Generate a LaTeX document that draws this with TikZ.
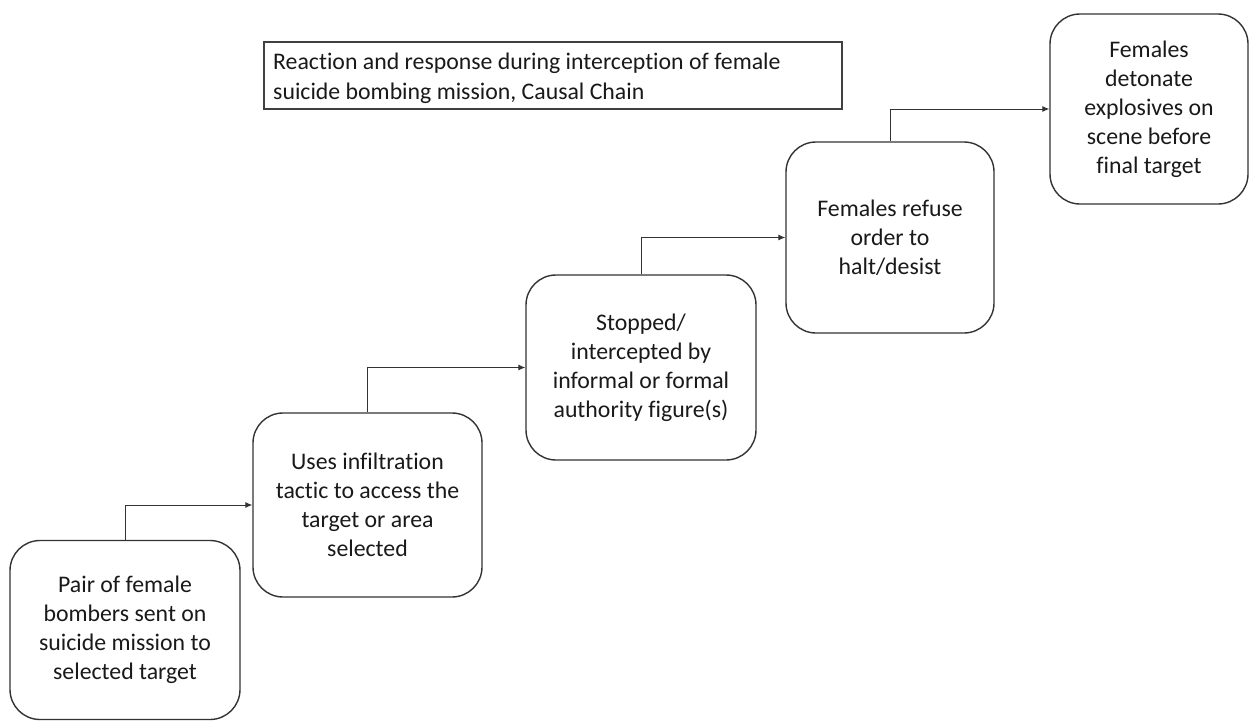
\documentclass[tikz,border=0pt]{standalone}
\usepackage{fontspec}
\setmainfont{Carlito}[Ligatures=NoCommon]
\usetikzlibrary{arrows.meta}
\begin{document}
\begin{tikzpicture}[x=1pt,y=-1pt,
  every node/.style={font=\fontsize{23.8}{29}\selectfont, text=black!90},
  stepbox/.style={draw=black!80, line width=1.4pt, rounded corners=30pt, align=center, inner sep=0pt},
  conn/.style={draw=black!80, line width=0.9pt, -{Latex[length=7pt,width=6pt]}},
  titlebox/.style={draw=black!75, line width=1.4pt, inner sep=0pt}
]
\useasboundingbox (0,0) rectangle (1249,720);
\node[stepbox, minimum width=230pt, minimum height=179pt] (b1) at (125,630)
  {Pair of female\\bombers sent on\\suicide mission to\\selected target};
\node[stepbox, minimum width=229pt, minimum height=184pt] (b2) at (367.5,505)
  {Uses infiltration\\tactic to access the\\target or area\\selected};
\node[stepbox, minimum width=230pt, minimum height=185pt] (b3) at (641,367.5)
  {Stopped/\\intercepted by\\informal or formal\\authority figure(s)};
\node[stepbox, minimum width=208pt, minimum height=191pt] (b4) at (890,237.5)
  {Females refuse\\order to\\halt/desist};
\node[stepbox, minimum width=198pt, minimum height=190pt] (b5) at (1149,109)
  {Females\\detonate\\explosives on\\scene before\\final target};
\node[titlebox, minimum width=578pt, minimum height=67pt] (t) at (553,75.5) {};
\node[anchor=west, align=left, inner sep=0pt, font=\fontsize{23.8}{30}\selectfont] (tt) at (273,78)
  {Reaction and response during interception of female\\suicide bombing mission, Causal Chain};
\draw[conn] (b1.north) |- (b2.west);
\draw[conn] (b2.north) |- (b3.west);
\draw[conn] (b3.north) |- (b4.west);
\draw[conn] (b4.north) |- (b5.west);
\end{tikzpicture}
\end{document}
